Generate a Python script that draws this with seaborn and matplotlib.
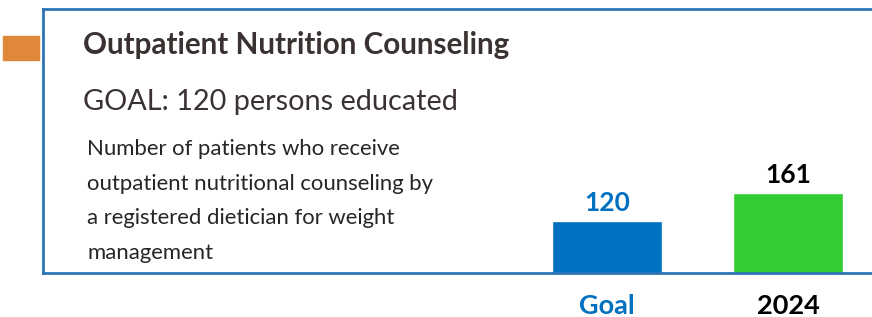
import matplotlib
matplotlib.use("Agg")
import matplotlib.pyplot as plt
import seaborn as sns
import pandas as pd
from matplotlib.patches import Rectangle

categories = ["Goal", "2024"]
values = [120, 161]
bar_colors = ["#0070C0", "#33CC33"]
label_colors = ["#0070C0", "#000000"]

title = "Outpatient Nutrition Counseling"
goal_text = "GOAL: 120 persons educated"
desc_lines = [
    "Number of patients who receive",
    "outpatient nutritional counseling by",
    "a registered dietician for weight",
    "management",
]

sns.set_theme(style="white")
plt.rcParams["font.family"] = ["Lato", "DejaVu Sans"]

W, H = 872, 317
fig = plt.figure(figsize=(W / 100, H / 100), dpi=100)

def fx(x):
    return x / W

def fy(y):
    return 1 - y / H

border = "#2E75B6"
ax = fig.add_axes([fx(43), fy(273), fx(872 - 43) + 0.1, (273 - 9) / H])
df = pd.DataFrame({"cat": categories, "val": values})
sns.barplot(data=df, x="cat", y="val", hue="cat", palette=bar_colors,
            width=0.608, legend=False, ax=ax, saturation=1)
ax.set_xlim(-3.116, 1.464 + 0.1 * W / 181)
ax.set_ylim(42.4, 433.7)
ax.set_xlabel("")
ax.set_ylabel("")
ax.set_yticks([])
ax.set_xticks([0, 1])
ax.set_xticklabels(categories, fontsize=19.5, fontweight="bold")
for lab, c in zip(ax.get_xticklabels(), label_colors):
    lab.set_color(c)
ax.tick_params(axis="x", length=0, pad=15)
for s in ["top", "left", "bottom"]:
    ax.spines[s].set_color(border)
    ax.spines[s].set_linewidth(2)
ax.spines["right"].set_visible(False)

for i, (v, c) in enumerate(zip(values, label_colors)):
    ax.annotate(str(v), (i, v), xytext=(0, 4), textcoords="offset points",
                ha="center", va="bottom", fontsize=19, fontweight="bold", color=c)

fig.patches.append(Rectangle((fx(3), fy(60)), fx(36), (60 - 36) / H,
                             transform=fig.transFigure, color="#E0883A"))

fig.text(fx(83), fy(45), title, fontsize=21.3, fontweight="bold", color="#3A3231",
         va="center", ha="left")
fig.text(fx(83), fy(102), goal_text, fontsize=20.8, color="#3A3231",
         va="center", ha="left")
for i, line in enumerate(desc_lines):
    fig.text(fx(87), fy(149 + i * 34.6), line, fontsize=15.9, color="#262626",
             va="center", ha="left")

fig.savefig("out.png", dpi=100)
